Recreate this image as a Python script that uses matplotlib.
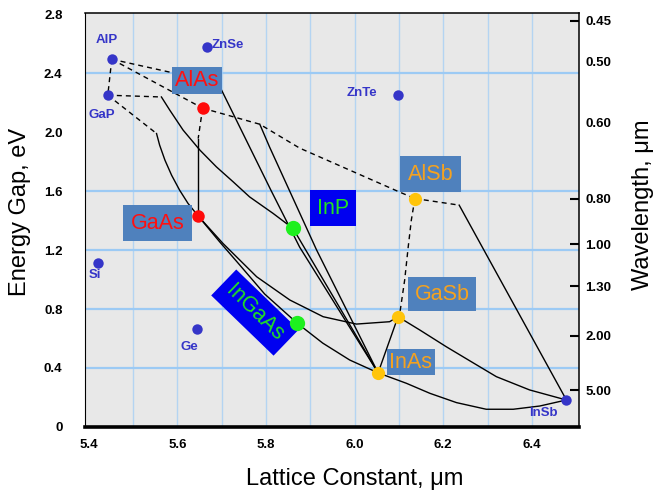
import matplotlib
matplotlib.use("Agg")
import matplotlib.pyplot as plt

# Binary compounds: lattice constant and band gap (eV)
blue_names = ["AlP", "GaP", "ZnSe", "ZnTe", "Si", "Ge", "InSb"]
blue_a = [5.452, 5.443, 5.666, 6.098, 5.420, 5.644, 6.478]
blue_eg = [2.495, 2.251, 2.580, 2.251, 1.112, 0.664, 0.183]

red_names = ["AlAs", "GaAs"]
red_a = [5.657, 5.647]
red_eg = [2.163, 1.431]

green_names = ["InP", "InGaAs"]
green_a = [5.861, 5.870]
green_eg = [1.347, 0.705]

yellow_names = ["AlSb", "GaSb", "InAs"]
yellow_a = [6.136, 6.098, 6.053]
yellow_eg = [1.550, 0.748, 0.367]

# Alloy lines (lattice constants, gaps); dashed parts are the indirect gap
alp_gap = ([5.452, 5.443], [2.495, 2.251])
alp_alas = ([5.452, 5.657], [2.495, 2.163])
alas_alsb = ([5.657, 5.786, 5.876, 6.102, 6.136], [2.163, 2.054, 1.892, 1.593, 1.550])
alp_top = ([5.452, 5.594, 5.691], [2.495, 2.400, 2.339])
alas_gaas_ind = ([5.657, 5.647], [2.163, 1.957])
gap_flat = ([5.443, 5.564], [2.251, 2.239])
gap_diag = ([5.443, 5.553], [2.251, 1.991])
alsb_gasb = ([6.136, 6.128, 6.121, 6.113, 6.102, 6.098], [1.550, 1.403, 1.222, 0.997, 0.771, 0.748])
alsb_kink = ([6.136, 6.236], [1.550, 1.505])

alp_inas = ([5.691, 5.811, 5.876, 6.053], [2.339, 1.607, 1.220, 0.367])
alas_inas = ([5.786, 5.808, 5.914, 6.053], [2.054, 1.900, 1.202, 0.367])
alas_gaas = ([5.647, 5.647], [1.957, 1.431])
gap_inp = ([5.564, 5.583, 5.613, 5.651, 5.688, 5.726, 5.763, 5.816, 5.861],
           [2.239, 2.149, 2.014, 1.878, 1.765, 1.663, 1.561, 1.449, 1.347])
gap_gaas = ([5.553, 5.560, 5.572, 5.587, 5.605, 5.624, 5.647],
            [1.991, 1.912, 1.810, 1.708, 1.607, 1.517, 1.431])
gaas_inas = ([5.647, 5.696, 5.741, 5.797, 5.870, 5.928, 5.989, 6.053],
             [1.431, 1.254, 1.098, 0.902, 0.705, 0.569, 0.454, 0.367])
gaas_gasb = ([5.647, 5.703, 5.779, 5.854, 5.929, 6.004, 6.079, 6.098],
             [1.431, 1.245, 1.019, 0.861, 0.748, 0.698, 0.714, 0.748])
inp_inas = ([5.861, 6.053], [1.347, 0.367])
gasb_inas = ([6.098, 6.053], [0.748, 0.367])
alsb_insb = ([6.236, 6.478], [1.505, 0.183])
gasb_insb = ([6.098, 6.147, 6.207, 6.267, 6.320, 6.395, 6.463, 6.478],
             [0.748, 0.658, 0.544, 0.436, 0.341, 0.251, 0.195, 0.183])
inas_insb = ([6.053, 6.117, 6.170, 6.230, 6.297, 6.358, 6.418, 6.478],
             [0.367, 0.296, 0.228, 0.165, 0.120, 0.120, 0.142, 0.183])

dashed_lines = [alp_gap, alp_alas, alas_alsb, alp_top, alas_gaas_ind,
                gap_flat, gap_diag, alsb_gasb, alsb_kink]
solid_lines = [alp_inas, alas_inas, alas_gaas, gap_inp, gap_gaas, gaas_inas,
               gaas_gasb, inp_inas, gasb_inas, alsb_insb, gasb_insb, inas_insb]

# Axis ticks
a_ticks = [5.4, 5.6, 5.8, 6.0, 6.2, 6.4]
a_grid = [5.5, 5.6, 5.7, 5.8, 5.9, 6.0, 6.1, 6.2, 6.3, 6.4]
eg_ticks = [0, 0.4, 0.8, 1.2, 1.6, 2.0, 2.4, 2.8]
eg_grid = [0.4, 0.8, 1.2, 1.6, 2.4]
wl_ticks = [0.45, 0.50, 0.60, 0.80, 1.00, 1.30, 2.00, 5.00]

font = "Liberation Sans"
dot_blue = "#3535c8"
box_blue = "#4f81bd"
txt_orange = "#f5a21f"
txt_green = "#22e022"

fig = plt.figure(figsize=(6.57, 4.93), dpi=100)
ax = fig.add_axes([0.129, 0.134, 0.752, 0.840])
ax.set_facecolor("#e8e8e8")
ax.set_xlim(5.391, 6.506)
ax.set_ylim(0, 2.81)

# Gridlines
for g in a_grid:
    ax.axvline(g, color="#b4d4f2", lw=1.0, zorder=0)
for g in eg_grid:
    ax.axhline(g, color="#9ccaf4", lw=1.6, zorder=0)

# Alloy curves
for xs, ys in dashed_lines:
    ax.plot(xs, ys, color="black", lw=1.0, ls=(0, (3.6, 2.9)), zorder=2)
for xs, ys in solid_lines:
    ax.plot(xs, ys, color="black", lw=1.0, zorder=2)

# Points
ax.plot(blue_a, blue_eg, "o", color=dot_blue, ms=7.5, mec="none", zorder=5)
ax.plot(red_a, red_eg, "o", color="#ff0a0a", ms=9, mec="none", zorder=5)
ax.plot(green_a, green_eg, "o", color="#1ef01e", ms=11, mec="none", zorder=5)
ax.plot(yellow_a, yellow_eg, "o", color="#ffc40a", ms=9.5, mec="none", zorder=5)

# Small blue labels
small = dict(color=dot_blue, fontsize=9.5, fontweight="bold", family=font, zorder=6)
ax.text(5.441, 2.624, "AlP", ha="center", va="center", **small)
ax.text(5.429, 2.115, "GaP", ha="center", va="center", **small)
ax.text(5.678, 2.590, "ZnSe", ha="left", va="center", **small)
ax.text(6.052, 2.264, "ZnTe", ha="right", va="center", **small)
ax.text(5.414, 1.030, "Si", ha="center", va="center", **small)
ax.text(5.626, 0.540, "Ge", ha="center", va="center", **small)
ax.text(6.427, 0.095, "InSb", ha="center", va="center", **small)

# Boxed labels
def box_label(x, y, s, tc, bc, pad, rot=0):
    ax.text(x, y, s, color=tc, fontsize=15.5, family=font, ha="center", va="center",
            rotation=rot, rotation_mode="anchor", zorder=4,
            bbox=dict(boxstyle="square,pad=%s" % pad, fc=bc, ec="none"))

box_label(5.644, 2.353, "AlAs", "#ff1010", box_blue, 0.14)
box_label(5.556, 1.383, "GaAs", "#ff1010", box_blue, 0.35)
box_label(5.951, 1.485, "InP", txt_green, "#0000f0", 0.33)
box_label(5.775, 0.776, "InGaAs", txt_green, "#0000f0", 0.35, rot=-44)
box_label(6.172, 1.715, "AlSb", txt_orange, box_blue, 0.35)
box_label(6.197, 0.900, "GaSb", txt_orange, box_blue, 0.3)
box_label(6.127, 0.440, "InAs", txt_orange, box_blue, 0.12)

# Left and bottom axes
ax.set_xticks(a_ticks)
ax.set_xticklabels(["%.1f" % t for t in a_ticks])
ax.set_yticks(eg_ticks)
ax.set_yticklabels(["0" if t == 0 else "%.1f" % t for t in eg_ticks])
ax.tick_params(axis="x", length=0, pad=9)
ax.tick_params(axis="y", length=0, pad=16)
for lab in ax.get_xticklabels() + ax.get_yticklabels():
    lab.set_fontfamily(font)
    lab.set_fontweight("bold")
    lab.set_fontsize(9.5)

ax.spines["bottom"].set_linewidth(2.6)
ax.spines["left"].set_linewidth(0.8)
ax.spines["top"].set_linewidth(1.1)
ax.spines["right"].set_linewidth(1.1)

ax.set_xlabel("Lattice Constant, \u03bcm", fontsize=17, family=font)
ax.set_ylabel("Energy Gap, eV", fontsize=17, family=font)
ax.xaxis.set_label_coords(0.547, -0.099)
ax.yaxis.set_label_coords(-0.109, 0.52)

# Wavelength axis on the right: E = 1.24 / lambda
ax2 = ax.twinx()
ax2.set_ylim(ax.get_ylim())
ax2.set_yticks([1.24 / w for w in wl_ticks])
ax2.set_yticklabels(["%.2f" % w for w in wl_ticks])
ax2.tick_params(axis="y", direction="in", length=6.5, width=1.5, pad=4.5)
for i, t in enumerate(ax2.yaxis.get_major_ticks()):
    if wl_ticks[i] in (0.50, 0.60):
        t.tick2line.set_visible(False)
for lab in ax2.get_yticklabels():
    lab.set_fontfamily(font)
    lab.set_fontweight("bold")
    lab.set_fontsize(9.5)
for s in ax2.spines.values():
    s.set_visible(False)
ax2.set_ylabel("Wavelength, \u03bcm", fontsize=17, family=font)
ax2.yaxis.set_label_coords(1.108, 0.536)

fig.savefig("out.png", dpi=100)
